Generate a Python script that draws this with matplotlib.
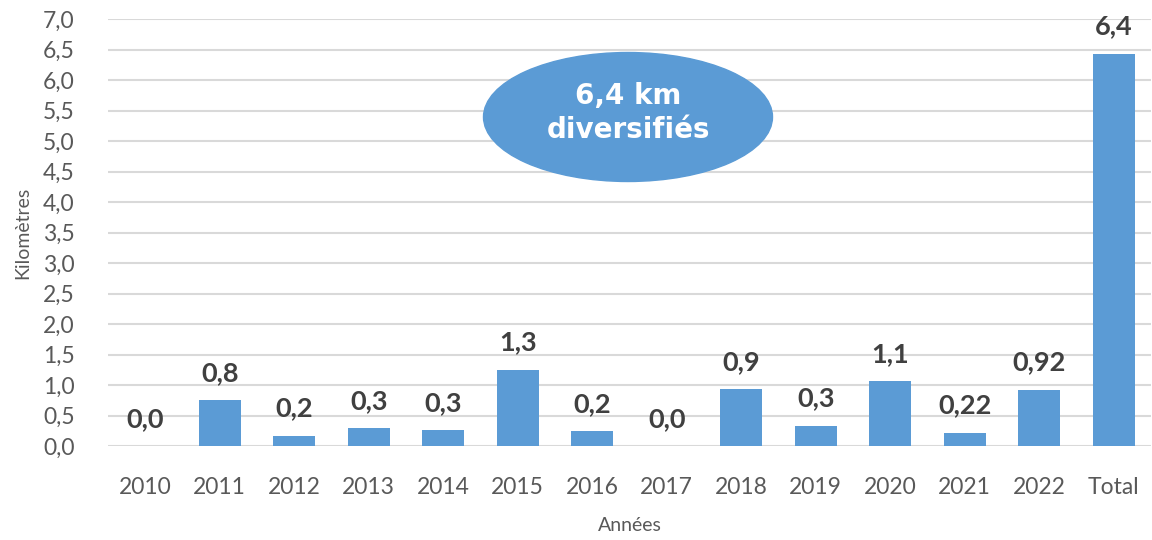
import matplotlib
matplotlib.use("Agg")
import matplotlib.pyplot as plt
from matplotlib.patches import Ellipse

categories = ["2010", "2011", "2012", "2013", "2014", "2015", "2016", "2017",
              "2018", "2019", "2020", "2021", "2022", "Total"]
values = [0.0, 0.75, 0.17, 0.29, 0.26, 1.25, 0.24, 0.0,
          0.93, 0.33, 1.06, 0.22, 0.92, 6.43]
labels = ["0,0", "0,8", "0,2", "0,3", "0,3", "1,3", "0,2", "0,0",
          "0,9", "0,3", "1,1", "0,22", "0,92", "6,4"]
yticks = [i * 0.5 for i in range(15)]
ytick_labels = [f"{v:.1f}".replace(".", ",") for v in yticks]

plt.rcParams['font.family'] = ['Lato', 'DejaVu Sans']

fig = plt.figure(figsize=(11.52, 5.4), dpi=100)
ax = fig.add_axes([108/1152, 1 - 446/540, (1151-108)/1152, (446-19)/540])

x = list(range(len(categories)))
bars = ax.bar(x, values, width=0.57, color="#5B9BD5", zorder=2)
ax.set_xlim(-0.5, len(categories) - 0.5)
ax.set_ylim(0, 7.0)
ax.set_yticks(yticks)
ax.set_yticklabels(ytick_labels)
ax.set_xticks(x)
ax.set_xticklabels(categories)
ax.tick_params(axis="both", length=0, labelsize=16.5, colors="#595959")
ax.tick_params(axis="x", pad=22)
ax.tick_params(axis="y", pad=24)
ax.grid(axis="y", color="#D9D9D9", linewidth=1.5, zorder=0)
for s in ax.spines.values():
    s.set_visible(False)

for xi, v, lab in zip(x, values, labels):
    ax.annotate(lab, (xi, v), xytext=(0, 11), textcoords="offset points",
                ha="center", va="bottom", fontsize=19.5, fontweight="bold",
                color="#404040", zorder=3)

ax.set_ylabel("Kilomètres", fontsize=14, color="#595959", labelpad=8)
ax.set_xlabel("Années", fontsize=14, color="#595959", labelpad=14)

ell = Ellipse((628/1152, 1 - 117/540), 289/1152, 129/540,
              transform=fig.transFigure, facecolor="#5B9BD5",
              edgecolor="#5B9BD5", linewidth=1, zorder=5)
fig.add_artist(ell)
fig.text(628/1152, 1 - 113/540, "6,4 km\ndiversifiés", ha="center",
         va="center", fontsize=20, fontweight="bold", color="white",
         family="DejaVu Sans", linespacing=1.3, zorder=6)

fig.savefig("out.png", dpi=100)
